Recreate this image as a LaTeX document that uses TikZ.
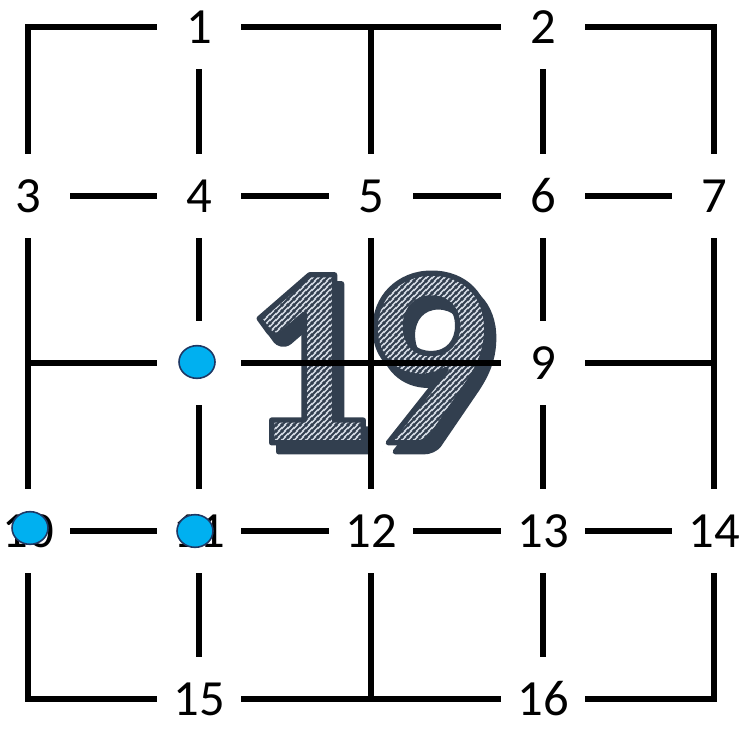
\documentclass[tikz,border=0pt]{standalone}
\usepackage{fontspec}
\setmainfont{Carlito}
\usepackage{tikz}
\usetikzlibrary{positioning, shapes.geometric, patterns}

\definecolor{slate}{HTML}{323F4F}
\definecolor{haze}{HTML}{D6DCE5}
\definecolor{dotblue}{HTML}{00B0F0}
\definecolor{dotrim}{HTML}{1F3864}

\pgfdeclarepatternformonly{stripes}{\pgfqpoint{0pt}{0pt}}{\pgfqpoint{4.2pt}{4.2pt}}{\pgfqpoint{4.2pt}{4.2pt}}{%
  \pgfsetlinewidth{1.6pt}%
  \pgfpathmoveto{\pgfqpoint{-1pt}{-1pt}}\pgfpathlineto{\pgfqpoint{5.2pt}{5.2pt}}%
  \pgfpathmoveto{\pgfqpoint{-1.5pt}{2.7pt}}\pgfpathlineto{\pgfqpoint{1.5pt}{5.7pt}}%
  \pgfpathmoveto{\pgfqpoint{2.7pt}{-1.5pt}}\pgfpathlineto{\pgfqpoint{5.7pt}{1.5pt}}%
  \pgfusepath{stroke}}

\makeatletter
\newcommand\glyphmode[1]{\pgfsys@invoke{#1 Tr}}
\makeatother
\newcommand\outlined[3]{{\pgfsetstrokecolor{#1}\pgfsetfillcolor{#2}\pgfsetlinewidth{4pt}\pgfsetroundjoin\glyphmode{2}#3\glyphmode{0}}}
\newcommand\hatched[2]{{\pgfsetfillpattern{stripes}{#1}#2}}
\newcommand\nineteen{1\kern-9pt 9}

\begin{document}
\begin{tikzpicture}[
    x=0.75pt, y=-0.75pt,
    lbl/.style={circle, inner sep=0pt, minimum size=63pt,
                font=\fontsize{38}{40}\selectfont},
    bignum/.style={inner sep=0pt, font=\fontsize{194}{194}\selectfont\bfseries},
    gridline/.style={line width=4.5pt},
    dot/.style={ellipse, fill=dotblue, draw=dotrim, line width=1.2pt,
                minimum width=27pt, minimum height=24.5pt, inner sep=0pt}
]
  \useasboundingbox (0,0) rectangle (744,731);

  \coordinate (numc) at (367,358);
  \node[bignum] (numshadow) at ([shift={(7,9)}]numc) {\outlined{slate}{slate}{\nineteen}};
  \node[bignum] (num) at (numc) {\outlined{slate}{haze}{\nineteen}};
  \node[bignum] (numhatch) at (numc) {\hatched{slate}{\nineteen}};

  \coordinate (tl) at (28,27);
  \coordinate (tm) at (371,27);
  \coordinate (tr) at (714,27);
  \coordinate (ml) at (28,363);
  \coordinate (mm) at (371,363);
  \coordinate (mr) at (714,363);
  \coordinate (bl) at (28,699);
  \coordinate (bm) at (371,699);
  \coordinate (br) at (714,699);

  \node[lbl] (p1) at (199,27) {1};
  \node[lbl] (p2) at (543,27) {2};
  \node[lbl] (p3) at (28,196) {3};
  \node[lbl] (p4) at (199,196) {4};
  \node[lbl] (p5) at (371,196) {5};
  \node[lbl] (p6) at (543,196) {6};
  \node[lbl] (p7) at (714,196) {7};
  \node[lbl] (p8) at (199,363) {};
  \node[lbl] (p9) at (543,363) {9};
  \node[lbl] (p10) at (28,531) {10};
  \node[lbl] (p11) at (199,531) {11};
  \node[lbl] (p12) at (371,531) {12};
  \node[lbl] (p13) at (543,531) {13};
  \node[lbl] (p14) at (714,531) {14};
  \node[lbl] (p15) at (199,699) {15};
  \node[lbl] (p16) at (543,699) {16};

  \draw[gridline] (p1) -- (tl) -- (p3);
  \draw[gridline] (p1) -- (tm) -- (p2);
  \draw[gridline] (p2) -- (tr) -- (p7);
  \draw[gridline] (tm) -- (p5);
  \draw[gridline] (p1) -- (p4);
  \draw[gridline] (p2) -- (p6);
  \draw[gridline] (p3) -- (p4);
  \draw[gridline] (p4) -- (p5);
  \draw[gridline] (p5) -- (p6);
  \draw[gridline] (p6) -- (p7);
  \draw[gridline] (p3) -- (ml) -- (p10);
  \draw[gridline] (p4) -- (p8);
  \draw[gridline] (p8) -- (p11);
  \draw[gridline] (p5) -- (mm) -- (p12);
  \draw[gridline] (p6) -- (p9);
  \draw[gridline] (p9) -- (p13);
  \draw[gridline] (p7) -- (mr) -- (p14);
  \draw[gridline] (ml) -- (p8);
  \draw[gridline] (p8) -- (mm) -- (p9);
  \draw[gridline] (p9) -- (mr);
  \draw[gridline] (p10) -- (p11);
  \draw[gridline] (p11) -- (p12);
  \draw[gridline] (p12) -- (p13);
  \draw[gridline] (p13) -- (p14);
  \draw[gridline] (p10) -- (bl) -- (p15);
  \draw[gridline] (p15) -- (bm) -- (p16);
  \draw[gridline] (p16) -- (br) -- (p14);
  \draw[gridline] (p11) -- (p15);
  \draw[gridline] (p12) -- (bm);
  \draw[gridline] (p13) -- (p16);

  \node[dot] (dot8) at ([shift={(-2,-1)}]p8) {};
  \node[dot] (dot10) at ([shift={(2,-3)}]p10) {};
  \node[dot] (dot11) at ([shift={(-4,0)}]p11) {};
\end{tikzpicture}
\end{document}
